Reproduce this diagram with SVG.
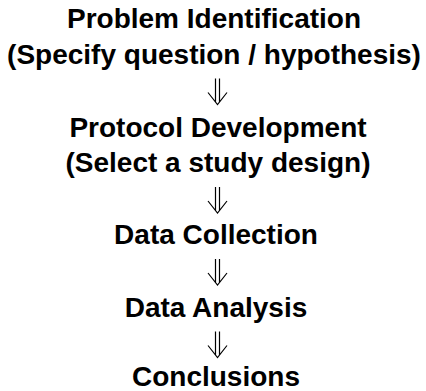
<svg xmlns="http://www.w3.org/2000/svg" width="426" height="391" viewBox="0 0 426 391">
  <style>
    .label { font-family: "Liberation Sans", Arial, sans-serif; font-weight: bold; font-size: 28px; fill: #000; text-anchor: middle; }
    .arrow { fill: none; stroke: #000; stroke-width: 1.2; stroke-linejoin: miter; }
  </style>
  <defs>
    <!-- double down arrow, tip at the origin -->
    <path id="dbl-down" class="arrow" d="M-2,-26 V-2.5 M2,-26 V-2.5 M-9.5,-12 L0,0 L9.5,-12"/>
  </defs>
  <rect width="426" height="391" fill="#fff"/>

  <g id="problem-identification">
    <text class="label" x="214" y="28">Problem Identification</text>
    <text class="label" x="214" y="63.5">(Specify question / hypothesis)</text>
  </g>

  <g id="protocol-development">
    <text class="label" x="218" y="136.5">Protocol Development</text>
    <text class="label" x="218" y="172">(Select a study design)</text>
  </g>

  <g id="data-collection">
    <text class="label" x="216" y="244">Data Collection</text>
  </g>

  <g id="data-analysis">
    <text class="label" x="216" y="317">Data Analysis</text>
  </g>

  <g id="conclusions">
    <text class="label" x="216" y="385.5">Conclusions</text>
  </g>

  <g id="connectors">
    <use href="#dbl-down" x="217.5" y="104.5"/>
    <use href="#dbl-down" x="217.5" y="213"/>
    <use href="#dbl-down" x="217.5" y="285"/>
    <use href="#dbl-down" x="217.5" y="357.5"/>
  </g>
</svg>
